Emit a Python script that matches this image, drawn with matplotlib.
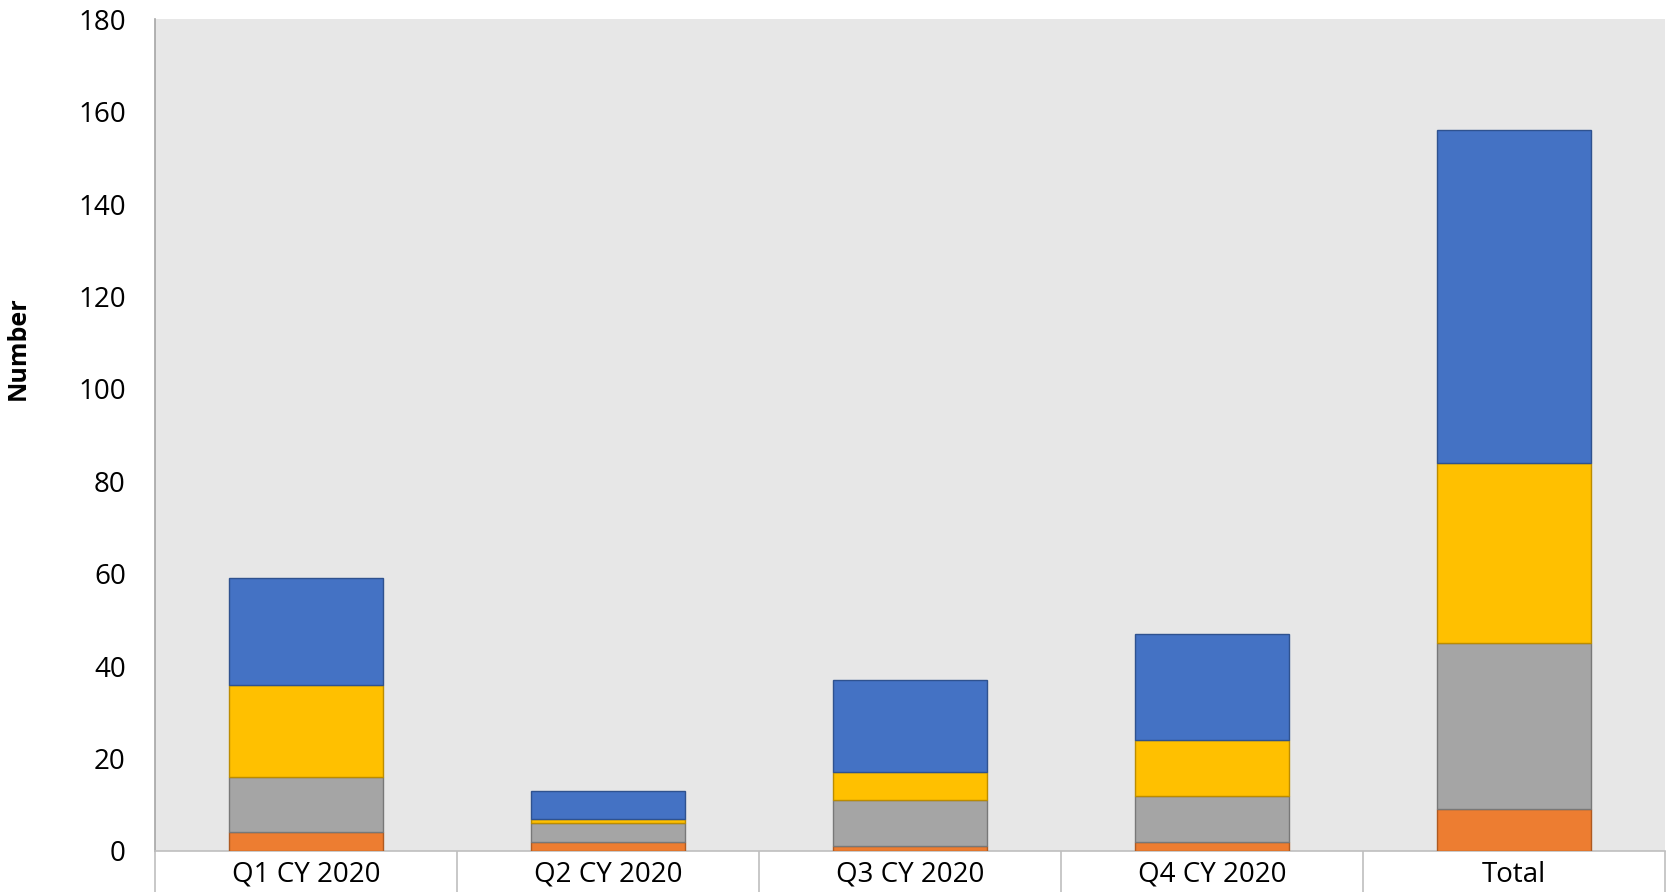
# Stacked bar chart - counts per quarter, CY 2020
import numpy as np
import matplotlib.pyplot as plt

categories = ['Q1 CY 2020', 'Q2 CY 2020', 'Q3 CY 2020', 'Q4 CY 2020', 'Total']
orange_vals = [4, 2, 1, 2, 9]
gray_vals = [12, 4, 10, 10, 36]
yellow_vals = [20, 1, 6, 12, 39]
blue_vals = [23, 6, 20, 23, 72]
y_ticks = [0, 20, 40, 60, 80, 100, 120, 140, 160, 180]

plt.rcParams['font.family'] = ['Open Sans', 'DejaVu Sans']

fig = plt.figure(figsize=(16.76, 8.92), dpi=100)
ax = fig.add_axes([0.0925, 0.046, 0.901, 0.9325])
ax.set_facecolor('#E7E7E7')

x = np.arange(len(categories))
w = 0.51
series = [(orange_vals, '#ED7D31', '#AE5A21'),
          (gray_vals, '#A5A5A5', '#787878'),
          (yellow_vals, '#FFC000', '#BC8C00'),
          (blue_vals, '#4472C4', '#2F528F')]
bottom = np.zeros(len(categories))
for vals, fc, ec in series:
    ax.bar(x, vals, w, bottom=bottom, color=fc, edgecolor=ec, linewidth=1.0, zorder=3)
    bottom += np.array(vals)

ax.set_xlim(-0.5, len(categories) - 0.5)
ax.set_ylim(0, 180)
ax.set_yticks(y_ticks)
ax.tick_params(axis='y', length=0, pad=21, labelsize=20)

# category separators as long ticks, labels on minor ticks
ax.set_xticks(np.arange(-0.5, len(categories)), labels=[''] * (len(categories) + 1))
ax.set_xticks(x, labels=categories, minor=True)
ax.tick_params(axis='x', which='major', length=32, width=1.2, color='#BFBFBF', direction='out')
ax.tick_params(axis='x', which='minor', length=0, pad=7, labelsize=20)

for s in ['top', 'right']:
    ax.spines[s].set_visible(False)
ax.spines['left'].set_color('#A6A6A6')
ax.spines['bottom'].set_color('#BFBFBF')
ax.spines['left'].set_linewidth(1.2)
ax.spines['bottom'].set_linewidth(1.2)

ax.set_ylabel('Number', fontsize=18, fontweight='bold',
              family=['Liberation Sans Narrow', 'Open Sans', 'DejaVu Sans'])
ax.yaxis.set_label_coords(-0.082, 0.605)

fig.savefig('out.png', dpi=100)
